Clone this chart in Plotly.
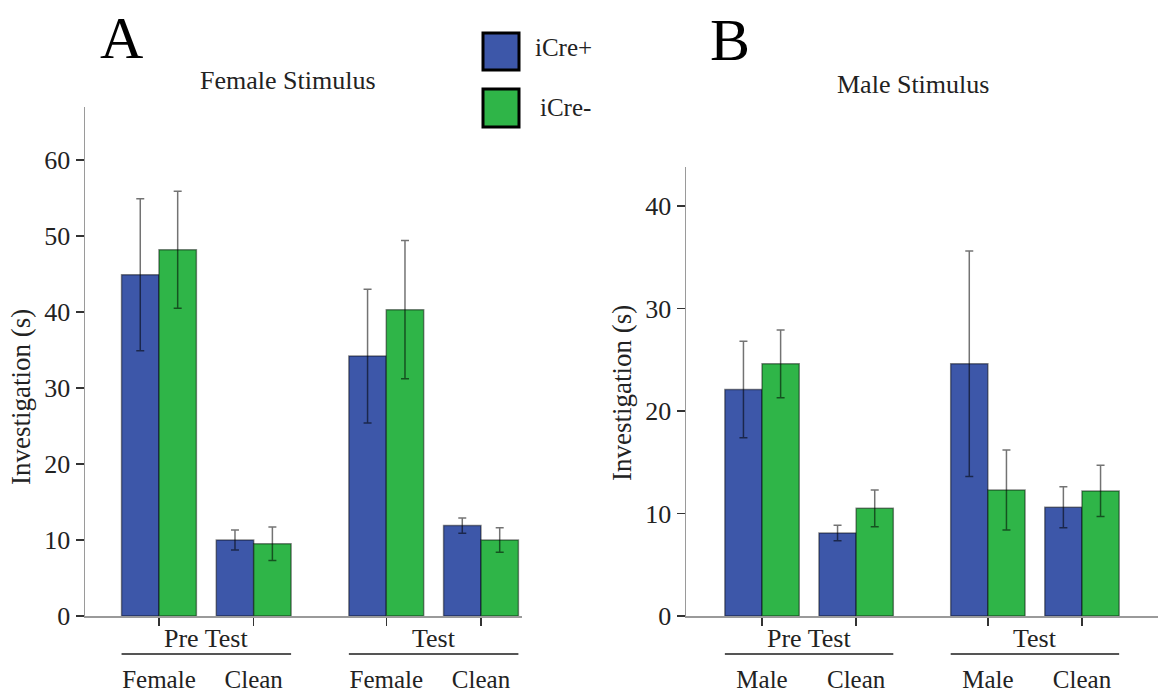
import plotly.graph_objects as go

# ---------------- data ----------------
series_names = ["iCre+", "iCre-"]
group_labels = ["Pre Test", "Test"]

female_categories = ["Female", "Clean", "Female", "Clean"]
female_icre_pos = [44.9, 10.0, 34.2, 11.9]
female_icre_pos_err = [10.0, 1.3, 8.8, 1.0]
female_icre_neg = [48.2, 9.5, 40.3, 10.0]
female_icre_neg_err = [7.7, 2.2, 9.1, 1.6]

male_categories = ["Male", "Clean", "Male", "Clean"]
male_icre_pos = [22.1, 8.1, 24.6, 10.6]
male_icre_pos_err = [4.7, 0.75, 11.0, 2.0]
male_icre_neg = [24.6, 10.5, 12.3, 12.2]
male_icre_neg_err = [3.3, 1.8, 3.9, 2.5]

female_yticks = [0, 10, 20, 30, 40, 50, 60]
male_yticks = [0, 10, 20, 30, 40]

# ---------------- styling ----------------
FONT = "Liberation Serif"
BLUE = "#3D57A9"
GREEN = "#2FB548"
W, H = 1158, 694
BAR_W = 0.395
GROUP_GAP = 1.4


def px(p):
    return p / W


def py(p):
    return (H - p) / H


# x positions: two categories per group, wider gap between groups
def positions(n_groups=2, per_group=2):
    pos = []
    for g in range(n_groups):
        for c in range(per_group):
            pos.append(g * GROUP_GAP + g * (per_group - 1) + c)
    return pos


pos = positions()

fig = go.Figure()


def add_panel(xa, ya, vals_pos, err_pos, vals_neg, err_neg):
    for vals, errs, color, off, name in [
        (vals_pos, err_pos, BLUE, -BAR_W, series_names[0]),
        (vals_neg, err_neg, GREEN, 0.0, series_names[1]),
    ]:
        fig.add_trace(go.Bar(
            x=pos, y=vals, width=BAR_W, offset=off, name=name,
            marker=dict(color=color, line=dict(color="rgba(0,0,0,0.45)", width=1.5)),
            error_y=dict(type="data", array=errs, visible=True,
                         color="rgba(0,0,0,0.55)", thickness=1.5, width=4),
            xaxis=xa, yaxis=ya, showlegend=False,
        ))


add_panel("x", "y", female_icre_pos, female_icre_pos_err, female_icre_neg, female_icre_neg_err)
add_panel("x2", "y2", male_icre_pos, male_icre_pos_err, male_icre_neg, male_icre_neg_err)

axis_common = dict(showgrid=False, zeroline=False, showline=True, linecolor="#9a9a9a",
                   linewidth=1.5, ticks="outside", ticklen=8, tickwidth=1.5,
                   tickcolor="#333", automargin=False, fixedrange=True)
ytickfont = dict(family=FONT, size=26, color="#222")
xtickfont = dict(family=FONT, size=25, color="#222")

fig.update_layout(
    width=W, height=H, margin=dict(l=0, r=0, t=0, b=0),
    paper_bgcolor="white", plot_bgcolor="white", barmode="overlay",
    font=dict(family=FONT, color="#222"),
    xaxis=dict(domain=[px(85), px(522)], range=[-0.781, 3.833], tickvals=pos,
               ticktext=female_categories, ticklabelstandoff=32, tickfont=xtickfont,
               anchor="y", **axis_common),
    yaxis=dict(domain=[py(616), py(107)], range=[0, 66.97], tickvals=female_yticks,
               tickfont=ytickfont, anchor="x", **axis_common),
    xaxis2=dict(domain=[px(686), 1.0], range=[-0.808, 4.208], tickvals=pos,
                ticktext=male_categories, ticklabelstandoff=32, tickfont=xtickfont,
                anchor="y2", **axis_common),
    yaxis2=dict(domain=[py(616), py(167)], range=[0, 43.8], tickvals=male_yticks,
                tickfont=ytickfont, anchor="x2", **axis_common),
)


def text(x, y, s, size, color="#222", xanchor="center", angle=0, xref="paper"):
    fig.add_annotation(x=x, y=y, xref=xref, yref="paper", text=s, showarrow=False,
                       xanchor=xanchor, yanchor="middle", textangle=angle,
                       font=dict(family=FONT, size=size, color=color))


# group labels with underline
for xref in ["x", "x2"]:
    for g, label in enumerate(group_labels):
        p = pos[g * 2:(g + 1) * 2]
        text(sum(p) / 2, py(638), label, 26, xref=xref)
        fig.add_shape(type="line", xref=xref, yref="paper",
                      x0=p[0] - BAR_W, x1=p[-1] + BAR_W,
                      y0=py(654), y1=py(654),
                      line=dict(color="#555", width=2))

# y-axis titles
for xp, yp in [(21, 397), (622, 393)]:
    text(px(xp), py(yp), "Investigation (s)", 27, angle=-90)

# panel titles and letters
text(px(288), py(80), "Female Stimulus", 26)
text(px(913), py(84), "Male Stimulus", 26)
text(px(121), py(38), "A", 60, color="#000")
text(px(730), py(40), "B", 60, color="#000")

# custom legend
for (y0, y1, color, name, tx, ty) in [
    (33, 70, BLUE, series_names[0], 533, 48),
    (89, 127, GREEN, series_names[1], 538, 107),
]:
    fig.add_shape(type="rect", xref="paper", yref="paper",
                  x0=px(483), x1=px(519), y0=py(y1), y1=py(y0),
                  fillcolor=color, line=dict(color="#000", width=3))
    text(px(tx), py(ty), name, 25, xanchor="left")

fig.write_html(
    "out.html",
    config={"displayModeBar": False, "staticPlot": True},
    post_script="document.body.style.margin='0';document.body.style.padding='0';",
)
